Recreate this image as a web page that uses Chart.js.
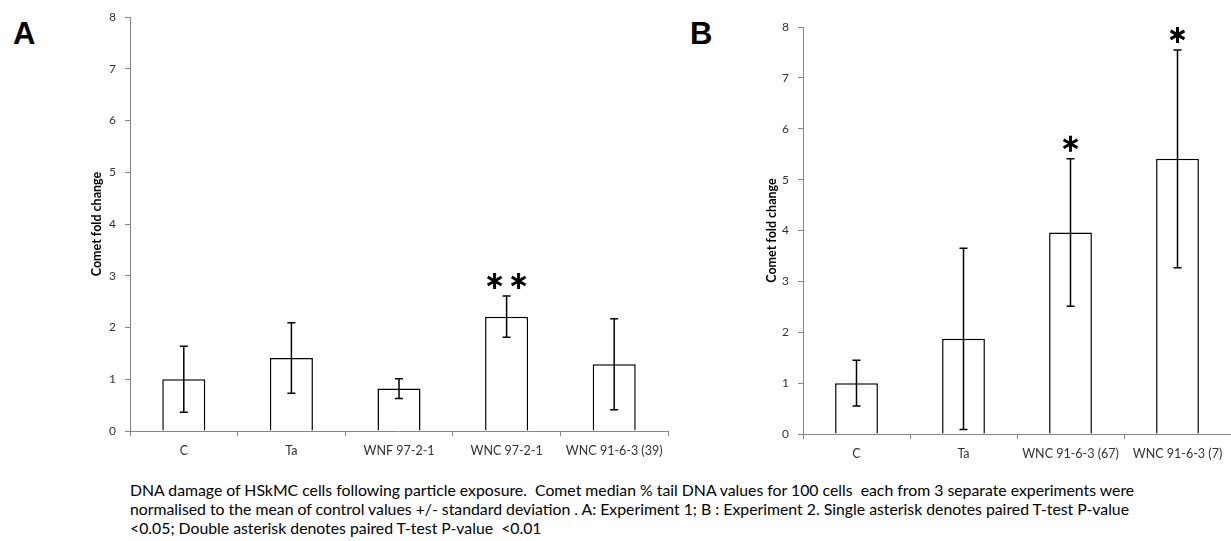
<!DOCTYPE html>
<html>
<head>
<meta charset="utf-8">
<script src="https://cdn.jsdelivr.net/npm/chart.js@4.4.1/dist/chart.umd.min.js"></script>
<style>
    body { margin: 0; width: 1231px; height: 541px; background: #fff; position: relative; overflow: hidden; font-family: Lato, sans-serif; }
    .panel-label { position: absolute; font: bold 31px "Liberation Sans", Arial, sans-serif; line-height: 31px; color: #000; }
    #wrapA { position: absolute; left: 0; top: 0; width: 700px; height: 470px; }
    #wrapB { position: absolute; left: 680px; top: 0; width: 551px; height: 470px; }
    #caption { position: absolute; left: 130px; top: 480px; font-size: 15.8px; line-height: 19px; white-space: pre; color: #000; }
</style>
</head>
<body>
<div class="panel-label" style="left:13px; top:18px;">A</div>
<div class="panel-label" style="left:690px; top:18px;">B</div>
<div id="wrapA"><canvas id="chartA"></canvas></div>
<div id="wrapB"><canvas id="chartB"></canvas></div>
<div id="caption">DNA damage of HSkMC cells following particle exposure.  Comet median % tail DNA values for 100 cells  each from 3 separate experiments were
normalised to the mean of control values +/- standard deviation . A: Experiment 1; B : Experiment 2. Single asterisk denotes paired T-test P-value
&lt;0.05; Double asterisk denotes paired T-test P-value  &lt;0.01</div>

<script>
// Experiment 1
const catsA = ['C', 'Ta', 'WNF 97-2-1', 'WNC 97-2-1', 'WNC 91-6-3 (39)'];
const meanA = [1.00, 1.41, 0.82, 2.21, 1.29];
const sdA = [0.64, 0.68, 0.19, 0.40, 0.88];
const starsA = ['', '', '', '**', ''];

// Experiment 2
const catsB = ['C', 'Ta', 'WNC 91-6-3 (67)', 'WNC 91-6-3 (7)'];
const meanB = [1.00, 1.87, 3.96, 5.41];
const sdB = [0.45, 1.78, 1.45, 2.14];
const starsB = ['', '', '*', '*'];

const yMin = 0, yMax = 8, yStep = 1;
const axisGray = '#868686';
const tickText = '#333';

function drawStar(ctx, cx, cy, r) {
    ctx.beginPath();
    [90, 30, 150].forEach(a => {
        const rad = a * Math.PI / 180;
        ctx.moveTo(cx - r * Math.cos(rad), cy - r * Math.sin(rad));
        ctx.lineTo(cx + r * Math.cos(rad), cy + r * Math.sin(rad));
    });
    ctx.stroke();
}

// error bars and significance marks
const errorBars = {
    id: 'errorBars',
    afterDatasetsDraw(chart, args, opts) {
        const { ctx, scales: { y } } = chart;
        const meta = chart.getDatasetMeta(0);
        const vals = chart.data.datasets[0].data;
        ctx.save();
        ctx.strokeStyle = '#000';
        ctx.lineWidth = 1.5;
        vals.forEach((m, i) => {
            const px = meta.data[i].x;
            const top = y.getPixelForValue(m + opts.sd[i]);
            const bot = y.getPixelForValue(m - opts.sd[i]);
            ctx.beginPath();
            ctx.moveTo(px, top); ctx.lineTo(px, bot);
            ctx.moveTo(px - 4, top); ctx.lineTo(px + 4, top);
            ctx.moveTo(px - 4, bot); ctx.lineTo(px + 4, bot);
            ctx.stroke();
            const n = opts.stars[i].length;
            if (n) {
                ctx.save();
                ctx.lineWidth = 3;
                for (let k = 0; k < n; k++) {
                    const cx = px + (k - (n - 1) / 2) * 24;
                    drawStar(ctx, cx, top - 15, 8);
                }
                ctx.restore();
            }
        });
        ctx.restore();
    }
};

function makeChart(id, cats, means, sd, stars, lay) {
    return new Chart(document.getElementById(id), {
        type: 'bar',
        data: {
            labels: cats,
            datasets: [{
                data: means,
                backgroundColor: '#fff',
                borderColor: '#000',
                borderWidth: 1.5,
                barPercentage: 0.4,
                categoryPercentage: 1.0
            }]
        },
        options: {
            responsive: true,
            maintainAspectRatio: false,
            animation: false,
            layout: { padding: { left: lay.left, right: lay.right, top: lay.top, bottom: 0 } },
            plugins: {
                legend: { display: false },
                tooltip: { enabled: false },
                errorBars: { sd: sd, stars: stars }
            },
            scales: {
                x: {
                    offset: true,
                    afterFit: s => { s.height = lay.xh; },
                    border: { color: axisGray },
                    grid: { offset: true, drawOnChartArea: false, tickLength: 5, color: axisGray },
                    ticks: { color: tickText, font: { family: 'Lato', size: 12.5 }, padding: 7, maxRotation: 0, autoSkip: false }
                },
                y: {
                    min: yMin, max: yMax,
                    afterFit: s => { s.width = lay.yw; },
                    border: { color: axisGray },
                    grid: { drawOnChartArea: false, tickLength: 5, color: axisGray },
                    ticks: { stepSize: yStep, color: tickText, font: { family: 'Lato', size: 12 }, padding: 9 },
                    title: { display: true, text: 'Comet fold change', color: '#000', padding: 0,
                             font: { family: 'Lato', size: 12.5, weight: 'bold' } }
                }
            }
        },
        plugins: [errorBars]
    });
}

makeChart('chartA', catsA, meanA, sdA, starsA, { left: 89, right: 32, top: 17, xh: 39, yw: 41 });
makeChart('chartB', catsB, meanB, sdB, starsB, { left: 84, right: 0, top: 27, xh: 36, yw: 39 });
</script>
</body>
</html>
